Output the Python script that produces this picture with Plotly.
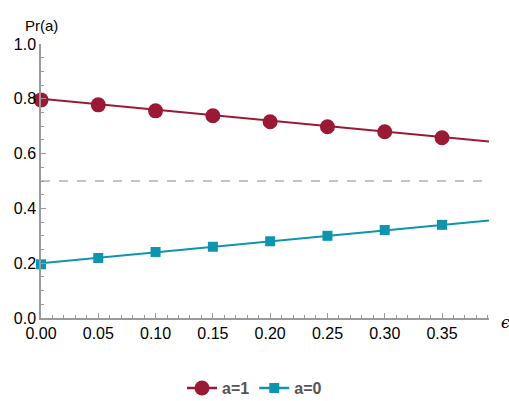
import plotly.graph_objects as go

eps = [0.00, 0.05, 0.10, 0.15, 0.20, 0.25, 0.30, 0.35]
pr_a1 = [0.796, 0.778, 0.756, 0.738, 0.716, 0.698, 0.680, 0.658]
pr_a0 = [0.196, 0.219, 0.241, 0.260, 0.280, 0.300, 0.321, 0.340]
line_eps = [0.0, 0.391]
line_a1 = [0.800, 0.644]
line_a0 = [0.200, 0.356]
x_ticks = [0.00, 0.05, 0.10, 0.15, 0.20, 0.25, 0.30, 0.35]
y_ticks = [0.0, 0.2, 0.4, 0.6, 0.8, 1.0]

RED = "#9a1a35"
TEAL = "#0e94ae"
FONT = "Liberation Sans, Arial, sans-serif"

fig = go.Figure()
fig.add_trace(go.Scatter(x=line_eps, y=line_a1, mode="lines",
                         line=dict(color=RED, width=2), showlegend=False, hoverinfo="skip"))
fig.add_trace(go.Scatter(x=line_eps, y=line_a0, mode="lines",
                         line=dict(color=TEAL, width=2), showlegend=False, hoverinfo="skip"))
fig.add_trace(go.Scatter(x=eps, y=pr_a1, mode="markers", showlegend=False,
                         marker=dict(symbol="circle", size=15, color=RED),
                         cliponaxis=False))
fig.add_trace(go.Scatter(x=eps, y=pr_a0, mode="markers", showlegend=False,
                         marker=dict(symbol="square", size=10, color=TEAL),
                         cliponaxis=False))
# legend entries
fig.add_trace(go.Scatter(x=[None], y=[None], mode="lines+markers", name="a=1",
                         line=dict(color=RED, width=2.5),
                         marker=dict(symbol="circle", size=15, color=RED)))
fig.add_trace(go.Scatter(x=[None], y=[None], mode="lines+markers", name="a=0",
                         line=dict(color=TEAL, width=2.5),
                         marker=dict(symbol="square", size=10, color=TEAL)))

fig.add_shape(type="line", xref="x", yref="y", x0=line_eps[0], x1=line_eps[1], y0=0.5, y1=0.5,
              line=dict(color="#888888", width=1, dash="dash"), layer="below")

fig.update_xaxes(range=[0, 0.391], tickvals=x_ticks, tickformat=".2f",
                 showgrid=False, zeroline=False, showline=True, linecolor="#9a9a9a", linewidth=1.5,
                 ticks="inside", ticklen=5, tickcolor="#9a9a9a", tickwidth=1,
                 minor=dict(dtick=0.01, ticks="inside", ticklen=3, tickcolor="#9a9a9a", tickwidth=1, showgrid=False),
                 tickfont=dict(family=FONT, size=16, color="black"))
fig.update_yaxes(range=[0, 1.0], tickvals=y_ticks, tickformat=".1f",
                 showgrid=False, zeroline=False, showline=True, linecolor="#9a9a9a", linewidth=1.5,
                 ticks="inside", ticklen=5, tickcolor="#9a9a9a", tickwidth=1,
                 minor=dict(dtick=0.05, ticks="inside", ticklen=3, tickcolor="#9a9a9a", tickwidth=1, showgrid=False),
                 tickfont=dict(family=FONT, size=16, color="black"))

fig.add_annotation(text="Pr(a)", xref="paper", yref="paper", x=0.0, y=1.066,
                   xanchor="center", yanchor="middle", showarrow=False,
                   font=dict(family=FONT, size=15, color="black"))
fig.add_annotation(text="<i>ϵ</i>", xref="paper", yref="paper", x=1.036, y=-0.016,
                   xanchor="center", yanchor="middle", showarrow=False,
                   font=dict(family="DejaVu Serif, serif", size=16, color="black"))

fig.update_layout(
    width=509, height=401,
    margin=dict(l=41, r=20, t=44, b=83, autoexpand=False),
    plot_bgcolor="white", paper_bgcolor="white",
    legend=dict(orientation="h", x=0.5, y=0.032, xref="container", yref="container",
                xanchor="center", yanchor="middle",
                font=dict(family=FONT, size=16, color="#555555", weight="bold"),
                itemwidth=30, bgcolor="rgba(0,0,0,0)"),
)

fig.write_html("out.html")
